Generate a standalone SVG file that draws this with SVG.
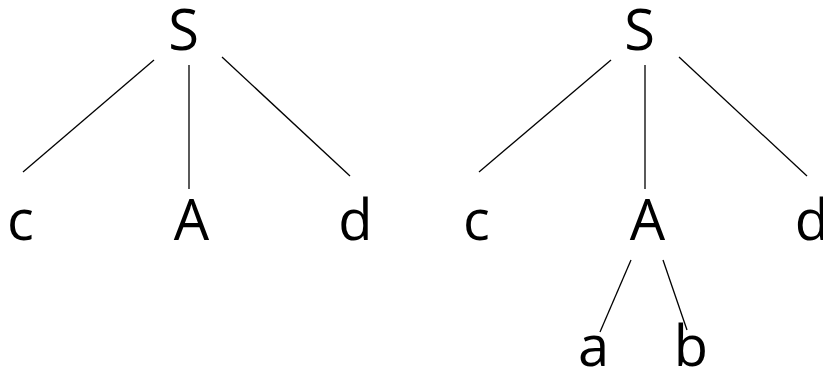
<svg xmlns="http://www.w3.org/2000/svg" width="823" height="371" viewBox="0 0 823 371">
<style>
text{font-family:"Open Sans","Liberation Sans",sans-serif;font-size:56px;fill:#000;text-anchor:middle}
.e line{stroke:#000;stroke-width:1.3}
</style>
<rect width="823" height="371" fill="#fff"/>
<g class="e" id="connectors">
<line x1="154" y1="60" x2="23" y2="172"/>
<line x1="189" y1="65" x2="189" y2="189"/>
<line x1="222" y1="57" x2="350" y2="176"/>
<line x1="611" y1="60" x2="479" y2="172"/>
<line x1="645" y1="65" x2="645" y2="189"/>
<line x1="679" y1="57" x2="807" y2="176"/>
<line x1="631" y1="260" x2="600" y2="332"/>
<line x1="663" y1="260" x2="687" y2="330"/>
</g>
<g id="S1"><text x="183.5" y="50">S</text></g>
<g id="c1"><text x="20.5" y="240">c</text></g>
<g id="A1"><text x="191.5" y="240">A</text></g>
<g id="d1"><text x="355.5" y="240">d</text></g>
<g id="S2"><text x="639.5" y="50">S</text></g>
<g id="c2"><text x="476.5" y="240">c</text></g>
<g id="A2"><text x="647.5" y="240">A</text></g>
<g id="d2"><text x="812" y="240">d</text></g>
<g id="a2"><text x="593.5" y="366">a</text></g>
<g id="b2"><text x="691" y="366">b</text></g>
</svg>
